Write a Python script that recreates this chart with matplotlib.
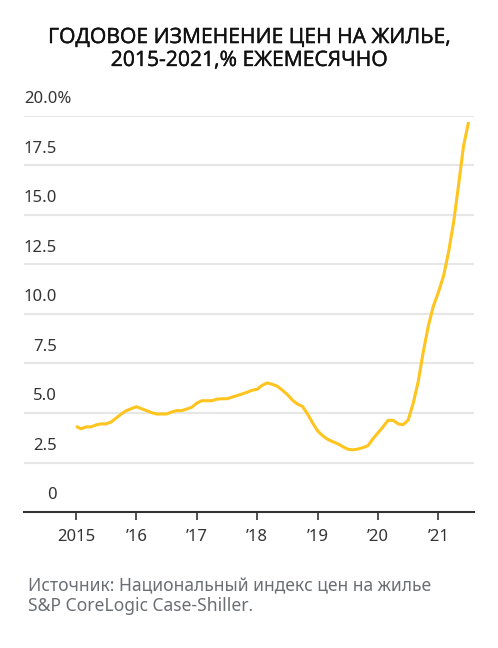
import numpy as np
import matplotlib
matplotlib.use('Agg')
import matplotlib.pyplot as plt
import matplotlib.patheffects as pe

plt.rcParams['font.family'] = ['Noto Sans', 'DejaVu Sans']

# monthly year-over-year change, Jan 2015 .. Jul 2021
values = [4.33, 4.2, 4.3, 4.3, 4.4, 4.45, 4.45, 4.55, 4.75, 4.95, 5.12, 5.22,
          5.32, 5.22, 5.12, 5.02, 4.95, 4.95, 4.95, 5.05, 5.12, 5.12, 5.2, 5.29,
          5.5, 5.62, 5.62, 5.62, 5.7, 5.72, 5.72, 5.8, 5.88, 5.96, 6.05, 6.15,
          6.2, 6.4, 6.52, 6.45, 6.35, 6.15, 5.93, 5.65, 5.45, 5.33, 4.95, 4.5,
          4.1, 3.85, 3.67, 3.55, 3.45, 3.3, 3.17, 3.14, 3.18, 3.25, 3.35, 3.7,
          4.0, 4.3, 4.63, 4.63, 4.45, 4.41, 4.65, 5.5, 6.6, 8.1, 9.4, 10.4,
          11.1, 11.9, 13.1, 14.6, 16.5, 18.5, 19.7]
years = [2015, 2016, 2017, 2018, 2019, 2020, 2021]
year_labels = ['2015', '\u201916', '\u201917', '\u201918', '\u201919', '\u201920', '\u201921']
yticks = [0, 2.5, 5, 7.5, 10, 12.5, 15, 17.5, 20]
ylabels = ['0', '2.5', '5.0', '7.5', '10.0', '12.5', '15.0', '17.5', '20.0%']

title = 'ГОДОВОЕ ИЗМЕНЕНИЕ ЦЕН НА ЖИЛЬЕ,\n2015-2021,% ЕЖЕМЕСЯЧНО'
source = 'Источник: Национальный индекс цен на жилье\nS&P CoreLogic Case-Shiller.'

x = 2015 + np.arange(len(values)) / 12

fig = plt.figure(figsize=(4.98, 6.48), dpi=100)
ax = fig.add_axes([24/498, 1 - 512/648, 450/498, (512 - 116)/648])

for t in yticks[1:]:
    ax.axhline(t, color='#e6e6e6', lw=1.5, zorder=1)
ax.plot(x, values, color='#ffc41e', lw=2.2, zorder=3, clip_on=False,
        solid_capstyle='butt')

ax.set_xlim(2015 - 52/60.4, 2015 + 398/60.4)
ax.set_ylim(0, 20)
ax.set_yticks([])
ax.set_xticks(years)
ax.set_xticklabels(year_labels, fontsize=12, color='#333333')
ax.tick_params(axis='x', length=6, width=1.2, color='#333333', pad=6)
for s in ['top', 'right', 'left']:
    ax.spines[s].set_visible(False)
ax.spines['bottom'].set_color('#333333')
ax.spines['bottom'].set_linewidth(1.5)

trans = ax.get_yaxis_transform()
for t, lab in zip(yticks, ylabels):
    if lab.endswith('%'):
        ax.text(0, t + 0.45, lab, transform=trans, ha='left', va='bottom',
                fontsize=12, color='#333333')
    else:
        ax.text(33/450, t + 0.45, lab, transform=trans, ha='right', va='bottom',
                fontsize=12, color='#333333')

fig.text(0.5, 1 - 49/648, title, ha='center', va='center', fontsize=15.2,
         family=['Open Sans', 'Noto Sans', 'DejaVu Sans'],
         color='#111111', linespacing=1.12,
         path_effects=[pe.withStroke(linewidth=0.3, foreground='#111111')])
fig.text(28/498, 1 - 596/648, source, ha='left', va='center', fontsize=12.6,
         color='#6b6e72', linespacing=1.1)

fig.savefig('out.png', dpi=100)
